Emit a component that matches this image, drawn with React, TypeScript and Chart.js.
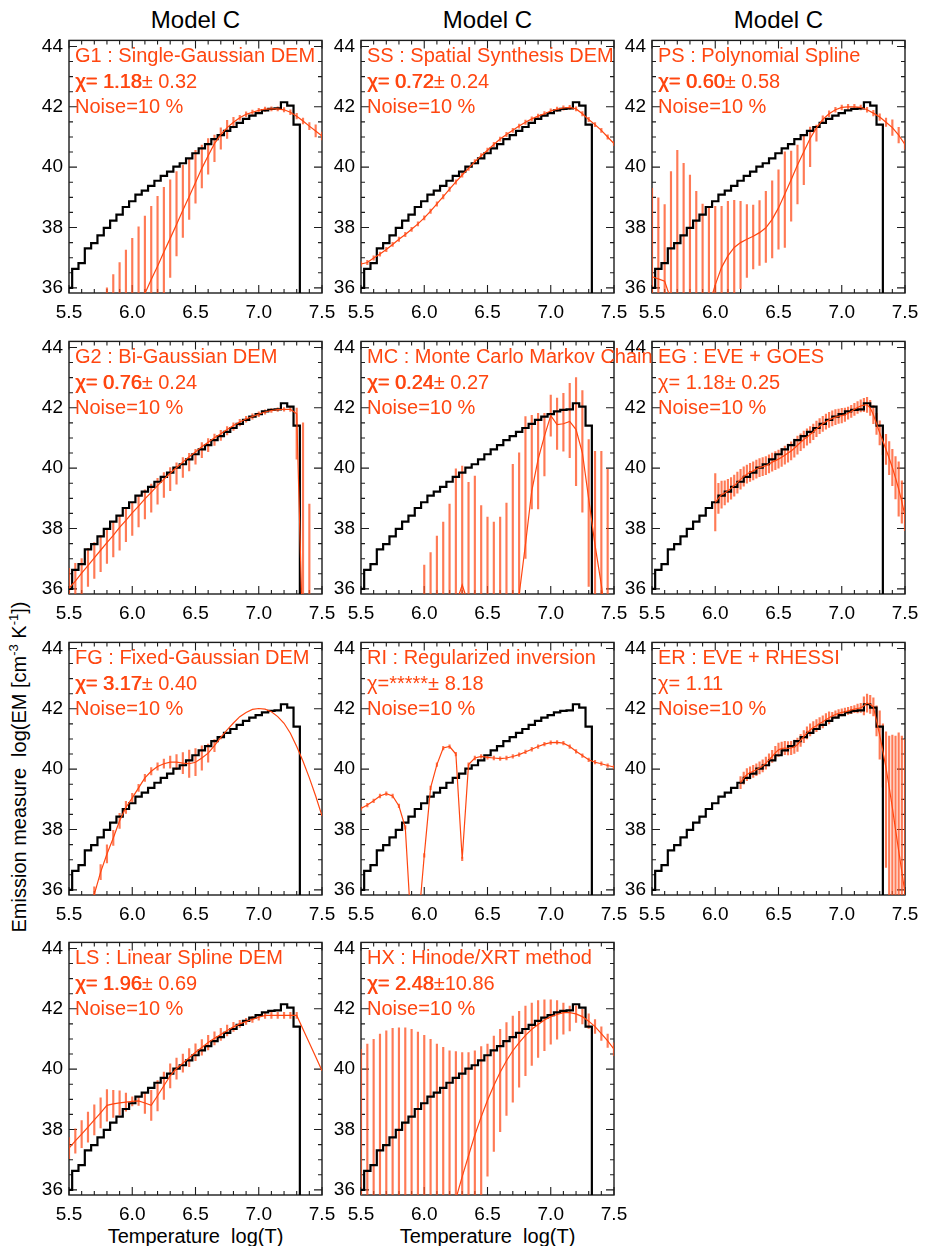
import React, { useEffect, useRef } from 'react';
import { Chart, registerables } from 'chart.js';
Chart.register(...registerables);

// ---------- data ----------
const T41 = [5.5, 5.55, 5.6, 5.65, 5.7, 5.75, 5.8, 5.85, 5.9, 5.95, 6.0, 6.05, 6.1, 6.15, 6.2, 6.25, 6.3, 6.35, 6.4, 6.45, 6.5, 6.55, 6.6, 6.65, 6.7, 6.75, 6.8, 6.85, 6.9, 6.95, 7.0, 7.05, 7.1, 7.15, 7.2, 7.25, 7.3, 7.35, 7.4, 7.45, 7.5];
const T_FINE = [6.0, 6.025, 6.05, 6.075, 6.1, 6.125, 6.15, 6.175, 6.2, 6.225, 6.25, 6.275, 6.3, 6.325, 6.35, 6.375, 6.4, 6.425, 6.45, 6.475, 6.5, 6.525, 6.55, 6.575, 6.6, 6.625, 6.65, 6.675, 6.7, 6.725, 6.75, 6.775, 6.8, 6.825, 6.85, 6.875, 6.9, 6.925, 6.95, 6.975, 7.0, 7.025, 7.05, 7.075, 7.1, 7.125, 7.15, 7.175, 7.2, 7.225, 7.25, 7.275, 7.3, 7.325, 7.35, 7.375, 7.4, 7.425, 7.45, 7.475, 7.5];

const X_TICKS = [5.5, 6.0, 6.5, 7.0, 7.5];
const X_MINOR = [5.5, 5.6, 5.7, 5.8, 5.9, 6.0, 6.1, 6.2, 6.3, 6.4, 6.5, 6.6, 6.7, 6.8, 6.9, 7.0, 7.1, 7.2, 7.3, 7.4, 7.5];
const Y_TICKS = [36, 38, 40, 42, 44];
const Y_MINOR = [36, 36.5, 37, 37.5, 38, 38.5, 39, 39.5, 40, 40.5, 41, 41.5, 42, 42.5, 43, 43.5, 44];
const X_MIN = 5.5, X_MAX = 7.5, Y_MIN = 35.83, Y_MAX = 44.2;

// true DEM (histogram), on T41 from 5.50 to 7.35
const HIST_EM = [36.0, 36.63, 36.82, 37.31, 37.48, 37.74, 37.99, 38.23, 38.43, 38.68, 38.87, 39.09, 39.22, 39.38, 39.55, 39.71, 39.85, 40.02, 40.13, 40.29, 40.46, 40.62, 40.76, 40.93, 41.06, 41.2, 41.33, 41.47, 41.6, 41.71, 41.79, 41.88, 41.93, 41.95, 42.15, 42.04, 41.41, 30.0];

const G1_FIT = [null, null, null, null, null, null, null, null, null, null, 34.9, 35.35, 35.81, 36.28, 36.72, 37.19, 37.64, 38.1, 38.57, 39.03, 39.49, 39.96, 40.38, 40.78, 41.08, 41.31, 41.49, 41.64, 41.75, 41.82, 41.88, 41.92, 41.93, 41.93, 41.9, 41.82, 41.69, 41.53, 41.36, 41.2, 41.03];
const G1_LO = [null, null, null, null, null, null, 35, 35, 35, 35, 35, 35, 35, 35, 35, 35, 36.35, 37.06, 37.67, 38.27, 38.81, 39.31, 39.77, 40.18, 40.6, 40.95, 41.3, 41.56, 41.67, 41.75, 41.81, 41.85, 41.86, 41.86, 41.83, 41.74, 41.6, 41.43, 41.24, 41.0, 40.9];
const G1_HI = [null, null, null, null, null, null, 36.0, 36.44, 36.84, 37.25, 37.64, 38.02, 38.38, 38.7, 39.03, 39.33, 39.58, 39.85, 40.07, 40.29, 40.56, 40.73, 40.95, 41.06, 41.3, 41.55, 41.65, 41.72, 41.83, 41.89, 41.95, 41.99, 42.0, 42.0, 41.97, 41.9, 41.78, 41.63, 41.48, 41.4, 41.16];

const SS_FIT = [36.79, 36.84, 36.99, 37.12, 37.27, 37.44, 37.61, 37.77, 37.94, 38.12, 38.32, 38.54, 38.78, 39.02, 39.27, 39.51, 39.74, 39.96, 40.18, 40.38, 40.56, 40.75, 40.93, 41.08, 41.22, 41.36, 41.49, 41.6, 41.69, 41.77, 41.86, 41.92, 41.96, 41.98, 41.93, 41.77, 41.58, 41.41, 41.22, 41.0, 40.78];
const SS_ERR = 0.07;

const PS_FIT = [36.37, 36.3, 36.22, 35.6, 34.5, 33.5, 33.0, 33.5, 34.8, 35.4, 36.1, 36.68, 37.06, 37.34, 37.5, 37.61, 37.71, 37.83, 37.99, 38.27, 38.65, 39.11, 39.58, 40.07, 40.51, 40.95, 41.3, 41.58, 41.77, 41.9, 41.98, 42.0, 42.0, 41.98, 41.9, 41.79, 41.66, 41.49, 41.31, 41.06, 40.75];
const PS_LO = [35, 35, 35, 35, 35, 35, 35, 35, 35, 35, 35, 35, 35, 35, 35.97, 36.35, 36.63, 36.74, 36.84, 36.99, 37.28, 37.34, 38.21, 38.78, 39.42, 40.02, 40.86, 41.45, 41.67, 41.82, 41.9, 41.92, 41.92, 41.9, 41.82, 41.7, 41.55, 41.35, 41.05, 40.8, 40.6];
const PS_HI = [39.3, 38.98, 38.76, 39.85, 40.56, 40.13, 39.74, 39.2, 38.78, 38.65, 38.7, 38.7, 38.87, 38.9, 38.87, 38.76, 38.74, 38.89, 39.2, 39.55, 39.91, 40.51, 40.53, 40.73, 41.06, 41.33, 41.39, 41.7, 41.87, 41.98, 42.06, 42.08, 42.08, 42.06, 41.98, 41.88, 41.77, 41.63, 41.57, 41.32, 40.9];

const G2_FIT = [36.02, 36.26, 36.52, 36.77, 37.03, 37.28, 37.53, 37.77, 38.04, 38.27, 38.52, 38.74, 38.98, 39.2, 39.42, 39.63, 39.83, 40.02, 40.2, 40.38, 40.54, 40.71, 40.86, 41.01, 41.14, 41.28, 41.41, 41.53, 41.63, 41.71, 41.79, 41.86, 41.91, 41.94, 41.95, 41.95, 41.8, 34, null, null, null];
const G2_LO = [35.8, 35.5, 35.6, 36.08, 36.35, 36.57, 36.84, 37.06, 37.28, 37.56, 37.77, 38.05, 38.32, 38.54, 38.81, 39.03, 39.25, 39.47, 39.69, 39.91, 40.13, 40.35, 40.55, 40.75, 40.92, 41.1, 41.25, 41.4, 41.52, 41.62, 41.71, 41.79, 41.85, 41.88, 41.89, 41.88, 40.3, 35, 35, null, null];
const G2_HI = [36.68, 36.85, 37.0, 37.34, 37.53, 37.77, 37.99, 38.21, 38.43, 38.65, 38.87, 39.09, 39.28, 39.47, 39.66, 39.85, 40.02, 40.18, 40.35, 40.49, 40.62, 40.85, 40.98, 41.13, 41.25, 41.38, 41.5, 41.62, 41.72, 41.8, 41.87, 41.93, 41.97, 42.0, 42.01, 42.02, 41.99, 41.5, 38.81, null, null];

const MC_FIT = [null, null, null, null, null, null, null, null, null, null, null, null, null, null, 34.5, 35.5, 36.13, 35.5, 34.5, null, null, null, null, null, 34, 35.8, 37.47, 39.25, 40.29, 41.06, 41.74, 41.44, 41.47, 41.55, 41.28, 40.51, 38.98, 37.45, 36.13, 34.5, 33];
const MC_LO = [null, null, null, null, null, null, null, null, null, null, 35, 35, 35, 35, 35, 35, 35, 35, 35, 35, 35, 35, 35, 35, 35, 35, 37.01, 38.65, 38.65, 39.74, 41.06, 40.62, 40.56, 40.35, 39.42, 38.54, 36.08, 35, 35, 35, null];
const MC_HI = [null, null, null, null, null, null, null, null, null, null, 36.79, 37.2, 37.75, 38.21, 38.81, 39.98, 40.07, 39.53, 39.74, 38.76, 38.38, 38.21, 38.38, 38.84, 40.13, 40.51, 41.71, 41.75, 41.82, 41.82, 42.42, 42.32, 42.48, 42.81, 43.0, 42.57, 40.95, 40.56, 40.56, 39.96, null];

const EG_FIT = [38.87, 39.0, 39.12, 39.18, 39.25, 39.33, 39.42, 39.52, 39.63, 39.72, 39.8, 39.86, 39.91, 39.97, 40.02, 40.05, 40.08, 40.14, 40.2, 40.25, 40.3, 40.36, 40.43, 40.5, 40.57, 40.66, 40.76, 40.86, 40.95, 41.03, 41.11, 41.2, 41.3, 41.39, 41.47, 41.54, 41.6, 41.65, 41.69, 41.72, 41.74, 41.77, 41.82, 41.88, 41.95, 42.01, 42.06, 42.09, 42.1, 42.0, 41.77, 41.47, 41.17, 40.9, 40.62, 40.33, 40.02, 39.68, 39.31, 38.88, 38.43];
const EG_ERR = [0.95, 0.5, 0.45, 0.4, 0.38, 0.36, 0.35, 0.35, 0.33, 0.32, 0.3, 0.3, 0.3, 0.3, 0.3, 0.3, 0.3, 0.3, 0.3, 0.3, 0.3, 0.3, 0.3, 0.3, 0.3, 0.3, 0.3, 0.28, 0.28, 0.27, 0.27, 0.26, 0.26, 0.25, 0.25, 0.25, 0.25, 0.25, 0.25, 0.24, 0.24, 0.22, 0.2, 0.2, 0.2, 0.2, 0.2, 0.22, 0.25, 0.25, 0.3, 0.35, 0.4, 0.45, 0.5, 0.55, 0.6, 0.7, 0.9, 0.7, 0.5];

const FG_FIT = [null, null, null, 35.1, 35.85, 36.59, 37.19, 37.72, 38.29, 38.73, 39.05, 39.38, 39.71, 39.93, 40.09, 40.18, 40.23, 40.23, 40.2, 40.18, 40.23, 40.37, 40.53, 40.78, 41.05, 41.3, 41.53, 41.74, 41.88, 41.98, 42.01, 41.99, 41.9, 41.74, 41.52, 41.19, 40.75, 40.26, 39.71, 39.11, 38.45];
const FG_ERR = [0, 0, 0, 0, 0.25, 0.25, 0.3, 0.25, 0.25, 0.2, 0.15, 0.12, 0.12, 0.12, 0.12, 0.15, 0.2, 0.25, 0.35, 0.45, 0.45, 0.4, 0.3, 0.2, 0.05, 0, 0, 0, 0, 0, 0, 0, 0, 0, 0, 0, 0, 0, 0, 0, 0];

const RI_FIT = [38.7, 38.81, 38.95, 39.11, 39.19, 39.11, 38.78, 38.07, 34.5, 34.7, 37.14, 39.38, 40.15, 40.7, 40.75, 40.5, 37.03, 40.15, 40.37, 40.42, 40.39, 40.37, 40.35, 40.37, 40.42, 40.48, 40.57, 40.66, 40.75, 40.83, 40.88, 40.89, 40.86, 40.75, 40.59, 40.45, 40.31, 40.23, 40.18, 40.12, 40.07];
const RI_ERR = 0.06;

const ER_T = T_FINE.slice(8);
const ER_FIT = [39.55, 39.7, 39.82, 39.88, 39.93, 39.98, 40.04, 40.11, 40.2, 40.31, 40.42, 40.54, 40.64, 40.68, 40.7, 40.69, 40.7, 40.74, 40.81, 40.95, 41.08, 41.2, 41.3, 41.38, 41.44, 41.51, 41.57, 41.64, 41.7, 41.76, 41.81, 41.85, 41.88, 41.9, 41.93, 41.96, 41.99, 42.01, 42.03, 42.1, 42.19, 42.15, 42.06, 41.6, 41.13, 40.6, 40.04, 39.4, 38.73, 38.0, 37.3, 36.6, 35.88];
const ER_ERR_UP = [0.2, 0.2, 0.2, 0.2, 0.2, 0.2, 0.2, 0.2, 0.2, 0.2, 0.2, 0.22, 0.22, 0.22, 0.22, 0.22, 0.22, 0.22, 0.22, 0.2, 0.2, 0.2, 0.2, 0.2, 0.2, 0.2, 0.2, 0.2, 0.2, 0.12, 0.12, 0.12, 0.12, 0.12, 0.12, 0.12, 0.12, 0.15, 0.15, 0.3, 0.3, 0.3, 0.3, 0.5, 0.8, 0.9, 1.2, 1.7, 2.4, 3.1, 3.9, 4.5, 5.1];
const ER_ERR_DN = [0.2, 0.2, 0.2, 0.2, 0.2, 0.2, 0.2, 0.2, 0.2, 0.2, 0.2, 0.22, 0.22, 0.22, 0.22, 0.22, 0.22, 0.22, 0.22, 0.2, 0.2, 0.2, 0.2, 0.2, 0.2, 0.2, 0.2, 0.2, 0.2, 0.12, 0.12, 0.12, 0.12, 0.12, 0.12, 0.12, 0.12, 0.15, 0.15, 0.3, 0.3, 0.3, 0.3, 0.5, 0.8, 1.2, 3.3, 4, 4, 4, 4, 4, 4];

const LS_FIT = [37.38, 37.62, 37.85, 38.08, 38.32, 38.55, 38.8, 38.85, 38.88, 38.91, 38.93, 38.95, 38.88, 38.8, 39.12, 39.45, 39.78, 40.02, 40.2, 40.38, 40.56, 40.72, 40.88, 41.02, 41.15, 41.28, 41.4, 41.5, 41.58, 41.65, 41.72, 41.78, 41.78, 41.78, 41.78, 41.78, 41.78, 41.32, 40.87, 40.41, 39.95];
const LS_ERR = [0.35, 0.4, 0.45, 0.5, 0.5, 0.5, 0.52, 0.45, 0.4, 0.3, 0.15, 0.15, 0.35, 0.5, 0.5, 0.45, 0.4, 0.35, 0.3, 0.3, 0.28, 0.26, 0.24, 0.22, 0.2, 0.18, 0.15, 0.12, 0.1, 0.1, 0.1, 0.1, 0.1, 0.1, 0.1, 0.1, 0.1, 0, 0, 0, 0];

const HX_FIT = [null, null, null, null, null, null, null, null, null, null, null, null, null, null, 35.0, 35.7, 36.44, 37.13, 37.82, 38.42, 38.97, 39.46, 39.9, 40.28, 40.61, 40.88, 41.12, 41.32, 41.48, 41.63, 41.74, 41.81, 41.87, 41.87, 41.83, 41.74, 41.59, 41.41, 41.18, 40.94, 40.66];
const HX_LO = [35, 35, 35, 35, 35, 35, 35, 35, 35, 35, 35, 35, 35, 35, 35, 35, 35, 35, 35, 35, 36.45, 37.27, 37.93, 38.47, 38.91, 39.4, 39.78, 40.12, 40.39, 40.61, 40.83, 40.99, 41.16, 41.27, 41.55, 41.5, 41.35, 41.18, 40.95, 40.72, 40.45];
const HX_HI = [40.66, 40.83, 40.99, 41.16, 41.27, 41.35, 41.37, 41.37, 41.32, 41.23, 41.12, 40.99, 40.83, 40.72, 40.61, 40.58, 40.55, 40.55, 40.61, 40.75, 40.83, 41.1, 41.32, 41.54, 41.76, 41.92, 42.09, 42.19, 42.27, 42.3, 42.3, 42.27, 42.19, 42.09, 42.1, 41.98, 41.83, 41.64, 41.4, 41.16, 40.87];

// ---------- panel descriptions ----------
const PANELS = [
  { label: 'G1 : Single-Gaussian DEM', chi: '1.18', sig: '0.32', bold: true, col: 0, row: 0, grid: T41, fit: G1_FIT, lo: G1_LO, hi: G1_HI },
  { label: 'SS : Spatial Synthesis DEM', chi: '0.72', sig: '0.24', bold: true, col: 1, row: 0, grid: T41, fit: SS_FIT, errUp: SS_ERR, errDn: SS_ERR },
  { label: 'PS : Polynomial Spline', chi: '0.60', sig: '0.58', bold: true, col: 2, row: 0, grid: T41, fit: PS_FIT, lo: PS_LO, hi: PS_HI },
  { label: 'G2 : Bi-Gaussian DEM', chi: '0.76', sig: '0.24', bold: true, col: 0, row: 1, grid: T41, fit: G2_FIT, lo: G2_LO, hi: G2_HI },
  { label: 'MC : Monte Carlo Markov Chain', chi: '0.24', sig: '0.27', bold: true, col: 1, row: 1, grid: T41, fit: MC_FIT, lo: MC_LO, hi: MC_HI },
  { label: 'EG : EVE + GOES', chi: '1.18', sig: '0.25', bold: false, col: 2, row: 1, grid: T_FINE, fit: EG_FIT, errUp: EG_ERR, errDn: EG_ERR },
  { label: 'FG : Fixed-Gaussian DEM', chi: '3.17', sig: '0.40', bold: true, col: 0, row: 2, grid: T41, fit: FG_FIT, errUp: FG_ERR, errDn: FG_ERR },
  { label: 'RI : Regularized inversion', chi: '*****', sig: '8.18', bold: false, col: 1, row: 2, grid: T41, fit: RI_FIT, errUp: RI_ERR, errDn: RI_ERR },
  { label: 'ER : EVE + RHESSI', chi: '1.11', sig: null, bold: false, col: 2, row: 2, grid: ER_T, fit: ER_FIT, errUp: ER_ERR_UP, errDn: ER_ERR_DN },
  { label: 'LS : Linear Spline DEM', chi: '1.96', sig: '0.69', bold: true, col: 0, row: 3, grid: T41, fit: LS_FIT, errUp: LS_ERR, errDn: LS_ERR },
  { label: 'HX : Hinode/XRT method', chi: '2.48', sig: '10.86', bold: true, col: 1, row: 3, grid: T41, fit: HX_FIT, lo: HX_LO, hi: HX_HI },
];
const NOISE_TEXT = 'Noise=10 %';
const MODEL_TITLE = 'Model C';

// ---------- layout / style ----------
const FONT = '"Liberation Sans", Arial, Helvetica, sans-serif';
const RED = 'rgb(255,70,16)';
const BAR_COLOR = 'rgba(255,78,28,0.75)';
const COL_LEFT = [69, 361, 652];
const ROW_TOP = [37, 338, 639, 939];
const BOX_W = 253, BOX_H = 256;
const PAD_L = 60, PAD_R = 22, PAD_T = 14, PAD_B = 40;
const CW = PAD_L + BOX_W + PAD_R, CH = PAD_T + BOX_H + PAD_B;

const pick = (v: any, i: number) => (Array.isArray(v) ? v[i] : v);

const framePlugin = {
  id: 'idlFrame',
  beforeDatasetsDraw(chart: any) {
    const { ctx, chartArea: a, scales } = chart;
    const x = scales.x, y = scales.y;
    ctx.save();
    ctx.strokeStyle = '#1c1c1c';
    ctx.lineWidth = 1.4;
    ctx.strokeRect(a.left, a.top, a.right - a.left, a.bottom - a.top);
    ctx.beginPath();
    X_MINOR.forEach((v) => {
      const px = x.getPixelForValue(v);
      const len = X_TICKS.includes(v) ? 8 : 4;
      ctx.moveTo(px, a.bottom); ctx.lineTo(px, a.bottom - len);
      ctx.moveTo(px, a.top); ctx.lineTo(px, a.top + len);
    });
    Y_MINOR.forEach((v) => {
      const py = y.getPixelForValue(v);
      const len = Y_TICKS.includes(v) ? 8 : 4;
      ctx.moveTo(a.left, py); ctx.lineTo(a.left + len, py);
      ctx.moveTo(a.right, py); ctx.lineTo(a.right - len, py);
    });
    ctx.lineWidth = 1.1;
    ctx.stroke();
    ctx.restore();
  },
};

function buildConfig(p: any) {
  const fitData = p.fit.map((v: any, i: number) => ({ x: p.grid[i], y: v }));
  const bars: any[] = [];
  p.grid.forEach((t: number, i: number) => {
    let lo: any, hi: any;
    if (p.lo) { lo = p.lo[i]; hi = p.hi[i]; }
    else {
      const v = p.fit[i];
      const up = pick(p.errUp, i), dn = pick(p.errDn, i);
      if (v == null || !up) return;
      lo = v - dn; hi = v + up;
    }
    if (lo == null || hi == null) return;
    bars.push({ x: t, y: [lo, hi] });
  });
  const hist = HIST_EM.map((v, i) => ({ x: T41[i], y: v }));
  const tickFont = { family: FONT, size: 19 };
  return {
    type: 'line',
    data: {
      datasets: [
        { type: 'bar', data: bars, backgroundColor: BAR_COLOR, barThickness: 1.5, borderWidth: 0, order: 3 },
        { type: 'line', data: hist, stepped: 'middle', borderColor: '#000', borderWidth: 2.2, pointRadius: 0, fill: false, order: 2 },
        { type: 'line', data: fitData, borderColor: RED, borderWidth: 1.2, pointRadius: 0, fill: false, tension: 0, spanGaps: false, order: 1 },
      ],
    },
    options: {
      animation: false,
      responsive: false,
      maintainAspectRatio: false,
      events: [],
      layout: { padding: { left: 0, right: PAD_R, top: PAD_T, bottom: 0 } },
      plugins: { legend: { display: false }, tooltip: { enabled: false }, title: { display: false } },
      scales: {
        x: {
          type: 'linear', min: X_MIN, max: X_MAX, offset: false,
          grid: { display: false, drawTicks: false, offset: false }, border: { display: false },
          afterBuildTicks: (s: any) => { s.ticks = X_TICKS.map((v) => ({ value: v })); },
          ticks: { callback: (v: any) => Number(v).toFixed(1), color: '#000', font: tickFont, padding: 8, maxRotation: 0, minRotation: 0, autoSkip: false },
          afterFit: (s: any) => { s.height = PAD_B; },
        },
        y: {
          type: 'linear', min: Y_MIN, max: Y_MAX, beginAtZero: false,
          grid: { display: false, drawTicks: false }, border: { display: false },
          afterBuildTicks: (s: any) => { s.ticks = Y_TICKS.map((v) => ({ value: v })); },
          ticks: { callback: (v: any) => String(v), color: '#000', font: tickFont, padding: 6, autoSkip: false },
          afterFit: (s: any) => { s.width = PAD_L; },
        },
      },
    },
    plugins: [framePlugin],
  } as any;
}

function Panel({ p }: { p: any }) {
  const ref = useRef<HTMLCanvasElement>(null);
  useEffect(() => {
    const chart = new Chart(ref.current as HTMLCanvasElement, buildConfig(p));
    return () => chart.destroy();
  }, [p]);
  const boxLeft = COL_LEFT[p.col], boxTop = ROW_TOP[p.row];
  const chiStr = 'χ=' + p.chi.padStart(5, ' ');
  const sigStr = p.sig == null ? '' : '±' + p.sig.padStart(5, ' ');
  const lineStyle: React.CSSProperties = { height: 25.5, lineHeight: '25.5px' };
  const boldStyle: React.CSSProperties = p.bold ? { textShadow: '0.7px 0 0 ' + RED } : {};
  return (
    <>
      <canvas ref={ref} width={CW} height={CH}
        style={{ position: 'absolute', left: boxLeft - PAD_L, top: boxTop - PAD_T, width: CW, height: CH, zIndex: 1 }} />
      <div style={{ position: 'absolute', left: boxLeft + 6, top: boxTop + 6, zIndex: 2, color: RED, fontFamily: FONT, fontSize: 20, whiteSpace: 'pre', pointerEvents: 'none' }}>
        <div style={lineStyle}>{p.label}</div>
        <div style={lineStyle}><span style={boldStyle}>{chiStr}</span>{sigStr}</div>
        <div style={lineStyle}>{NOISE_TEXT}</div>
      </div>
    </>
  );
}

export default function App() {
  const colCenter = (c: number) => COL_LEFT[c] + BOX_W / 2;
  return (
    <div style={{ position: 'absolute', left: 0, top: 0, width: 926, height: 1246, background: '#fff', fontFamily: FONT, overflow: 'hidden' }}>
      {[0, 1, 2].map((c) => (
        <div key={'t' + c} style={{ position: 'absolute', left: colCenter(c) - 100, width: 200, top: 6, textAlign: 'center', fontSize: 24, lineHeight: '28px', color: '#000' }}>{MODEL_TITLE}</div>
      ))}
      {PANELS.map((p, i) => <Panel key={i} p={p} />)}
      {[0, 1].map((c) => (
        <div key={'x' + c} style={{ position: 'absolute', left: colCenter(c) - 120, width: 240, top: 1225.5, textAlign: 'center', fontSize: 20, lineHeight: '20px', whiteSpace: 'pre', color: '#000' }}>Temperature  log(T)</div>
      ))}
      <div style={{ position: 'absolute', left: 18.5, top: 767, transform: 'translate(-50%, -50%) rotate(-90deg)', fontSize: 20, lineHeight: '22px', whiteSpace: 'pre', color: '#000' }}>
        Emission measure  log(EM [cm<sup style={{ fontSize: 13, lineHeight: 0 }}>-3</sup> K<sup style={{ fontSize: 13, lineHeight: 0 }}>-1</sup>])
      </div>
    </div>
  );
}
